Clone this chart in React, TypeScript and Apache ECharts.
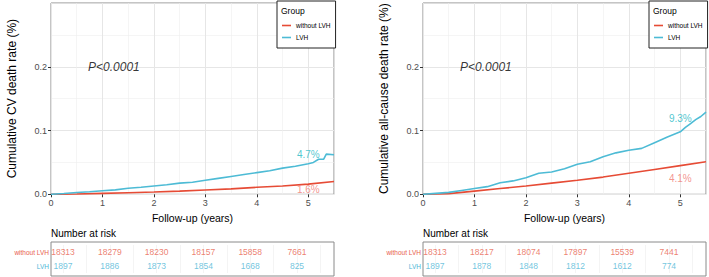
import React, { useEffect, useRef } from "react";
import * as echarts from "echarts";

const FONT = "'Liberation Sans', Arial, Helvetica, sans-serif";
const RED = "#E64B35";
const BLUE = "#4DBBD5";
const RED_LABEL = "#F07A72";
const BLUE_LABEL = "#22B8C4";
const RED_TEXT = "#E8604C";
const BLUE_TEXT = "#4DB6D6";

const groups = ["without LVH", "LVH"];

// Left panel: cardiovascular death
const cvTimeLVH = [0, 0.25, 0.5, 0.75, 1, 1.25, 1.5, 1.75, 2, 2.25, 2.5, 2.75, 3, 3.25, 3.5, 3.75, 4, 4.25, 4.5, 4.75, 5, 5.1, 5.2, 5.3, 5.35, 5.5];
const cvLVH = [0, 0.0012, 0.0028, 0.004, 0.0055, 0.007, 0.0095, 0.011, 0.013, 0.015, 0.0175, 0.019, 0.022, 0.025, 0.028, 0.031, 0.034, 0.037, 0.041, 0.044, 0.048, 0.05, 0.055, 0.055, 0.063, 0.062];
const cvTimeNo = [0, 0.5, 1, 1.5, 2, 2.5, 3, 3.5, 4, 4.5, 5, 5.5];
const cvNo = [0, 0.0005, 0.0015, 0.0025, 0.0035, 0.005, 0.0068, 0.0085, 0.011, 0.013, 0.016, 0.02];

// Right panel: all-cause death
const acTimeLVH = [0, 0.25, 0.5, 0.75, 1, 1.25, 1.5, 1.75, 2, 2.25, 2.5, 2.75, 3, 3.25, 3.5, 3.75, 4, 4.25, 4.5, 4.75, 5, 5.1, 5.2, 5.3, 5.4, 5.5];
const acLVH = [0, 0.0015, 0.003, 0.006, 0.009, 0.012, 0.018, 0.021, 0.026, 0.033, 0.035, 0.04, 0.047, 0.051, 0.059, 0.065, 0.069, 0.072, 0.081, 0.09, 0.098, 0.105, 0.111, 0.117, 0.122, 0.129];
const acTimeNo = [0, 0.5, 1, 1.5, 2, 2.5, 3, 3.5, 4, 4.5, 5, 5.5];
const acNo = [0, 0.001, 0.005, 0.009, 0.013, 0.0175, 0.022, 0.027, 0.033, 0.039, 0.045, 0.051];

// End-point labels
const cvEndLabels = [
  { text: "1.6%", x: 5.0, y: 0.007 },
  { text: "4.7%", x: 5.0, y: 0.063 },
];
const acEndLabels = [
  { text: "4.1%", x: 5.0, y: 0.024 },
  { text: "9.3%", x: 5.0, y: 0.119 },
];
const pText = "P<0.0001";
const pPos = [0.72, 0.2];

// Number at risk
const riskTimes = [0, 1, 2, 3, 4, 5];
const cvRiskNo = [18313, 18279, 18230, 18157, 15858, 7661];
const cvRiskLVH = [1897, 1886, 1873, 1854, 1668, 825];
const acRiskNo = [18313, 18217, 18074, 17897, 15539, 7441];
const acRiskLVH = [1897, 1878, 1848, 1812, 1612, 774];

const yTicks = [0, 0.1, 0.2];
const xTicks = [0, 1, 2, 3, 4, 5];
const yTitles = ["Cumulative CV death rate (%)", "Cumulative all-cause death rate (%)"];

const zip = (a: number[], b: number[]) => a.map((v, i) => [v, b[i]]);

const PANEL_LEFT = [51, 423];
const PANEL_W = 283;

function buildOption() {
  const grid: any[] = [];
  const xAxis: any[] = [];
  const yAxis: any[] = [];
  const series: any[] = [];
  const legend: any[] = [];
  const title: any[] = [];
  const graphic: any[] = [];

  const panels = [
    { tl: cvTimeLVH, l: cvLVH, tn: cvTimeNo, n: cvNo, ends: cvEndLabels, rn: cvRiskNo, rl: cvRiskLVH },
    { tl: acTimeLVH, l: acLVH, tn: acTimeNo, n: acNo, ends: acEndLabels, rn: acRiskNo, rl: acRiskLVH },
  ];

  panels.forEach((p, k) => {
    const left = PANEL_LEFT[k];
    const gPlot = grid.length;
    grid.push({ left, top: 3, width: PANEL_W, height: 191.3, show: true, borderColor: "#8a8a8a", borderWidth: 1, backgroundColor: "transparent" });
    const gBox = grid.length;
    grid.push({ left, top: 242, width: PANEL_W, height: 34, show: true, borderColor: "#8a8a8a", borderWidth: 1 });
    const gTab = grid.length;
    grid.push({ left: left + 12, top: 245, width: 46.8 * 5.5, height: 28 });

    // plot axes: minor grid axis + main axis
    xAxis.push({ type: "value", gridIndex: gPlot, position: "bottom", offset: 0, min: 0, max: 5.5, interval: 0.5, axisLine: { show: false }, axisTick: { show: false }, axisLabel: { show: false }, splitLine: { show: true, lineStyle: { color: "#efefef", width: 0.6 } } });
    const xMain = xAxis.length;
    xAxis.push({
      type: "value", gridIndex: gPlot, position: "bottom", offset: 0, min: 0, max: 5.5, interval: 1,
      name: "Follow-up (years)", nameLocation: "middle", nameGap: 12,
      nameTextStyle: { fontFamily: FONT, fontSize: 10.5, color: "#000" },
      axisLine: { show: false },
      axisTick: { show: true, length: 3, inside: false, lineStyle: { color: "#333" }, customValues: xTicks },
      axisLabel: { show: true, margin: 4, fontFamily: FONT, fontSize: 9, color: "#4d4d4d", customValues: xTicks },
      splitLine: { show: true, lineStyle: { color: "#e6e6e6", width: 1 } },
    });
    yAxis.push({ type: "value", gridIndex: gPlot, position: "left", offset: 0, min: 0, max: 0.3, interval: 0.05, axisLine: { show: false }, axisTick: { show: false }, axisLabel: { show: false }, splitLine: { show: true, lineStyle: { color: "#efefef", width: 0.6 } } });
    const yMain = yAxis.length;
    yAxis.push({
      type: "value", gridIndex: gPlot, position: "left", offset: 0, min: 0, max: 0.3, interval: 0.1,
      name: yTitles[k], nameLocation: "middle", nameGap: 33, nameRotate: 90,
      nameTextStyle: { fontFamily: FONT, fontSize: 12, color: "#000" },
      axisLine: { show: false },
      axisTick: { show: true, length: 3, lineStyle: { color: "#333" }, customValues: yTicks },
      axisLabel: { show: true, margin: 4, fontFamily: FONT, fontSize: 9, color: "#4d4d4d", formatter: (v: number) => v.toFixed(1), customValues: yTicks },
      splitLine: { show: true, lineStyle: { color: "#e6e6e6", width: 1 } },
    });

    // box axes (hidden)
    xAxis.push({ type: "value", gridIndex: gBox, position: "bottom", min: 0, max: 1, show: false });
    yAxis.push({ type: "value", gridIndex: gBox, position: "left", min: 0, max: 1, show: false });

    // table axes
    const xTab = xAxis.length;
    xAxis.push({ type: "value", gridIndex: gTab, position: "bottom", min: 0, max: 5.5, interval: 0.5, axisLine: { show: false }, axisTick: { show: false }, axisLabel: { show: false }, splitLine: { show: true, lineStyle: { color: "#f1f1f1", width: 0.8 } } });
    const yTab = yAxis.length;
    yAxis.push({
      type: "category", gridIndex: gTab, position: "left", data: groups, inverse: true,
      axisLine: { show: false }, axisTick: { show: false }, splitLine: { show: false },
      axisLabel: { show: true, margin: 14, fontFamily: FONT, fontSize: 6.5, color: (v: string) => (v === "LVH" ? BLUE_TEXT : RED_TEXT) },
    });

    // curves
    series.push({ type: "line", name: "without LVH", xAxisIndex: xMain, yAxisIndex: yMain, data: zip(p.tn, p.n), showSymbol: false, symbol: "none", lineStyle: { color: RED, width: 1.6 }, itemStyle: { color: RED }, z: 3 });
    series.push({ type: "line", name: "LVH", xAxisIndex: xMain, yAxisIndex: yMain, data: zip(p.tl, p.l), showSymbol: false, symbol: "none", lineStyle: { color: BLUE, width: 1.6 }, itemStyle: { color: BLUE }, z: 3 });

    // end labels
    series.push({
      type: "scatter", xAxisIndex: xMain, yAxisIndex: yMain, symbolSize: 0, silent: true, z: 4,
      data: p.ends.map((e, i) => ({ value: [e.x, e.y], label: { color: i === 0 ? RED_LABEL : BLUE_LABEL }, name: e.text })),
      label: { show: true, position: "inside", fontFamily: FONT, fontSize: 10, formatter: (q: any) => q.name },
    });
    // p-value
    series.push({
      type: "scatter", xAxisIndex: xMain, yAxisIndex: yMain, symbolSize: 0, silent: true, z: 4,
      data: [{ value: pPos, name: pText }],
      label: { show: true, position: "right", distance: 0, fontFamily: FONT, fontSize: 12, fontStyle: "italic", color: "#000", formatter: (q: any) => q.name },
    });

    // risk table
    const rows = [
      { name: groups[0], vals: p.rn, color: RED_TEXT },
      { name: groups[1], vals: p.rl, color: BLUE_TEXT },
    ];
    rows.forEach((r) => {
      series.push({
        type: "scatter", xAxisIndex: xTab, yAxisIndex: yTab, symbolSize: 0, silent: true,
        data: riskTimes.map((t, i) => [t, r.name, r.vals[i]]),
        label: { show: true, position: "inside", fontFamily: FONT, fontSize: 8.5, color: r.color, formatter: (q: any) => String(q.value[2]) },
      });
    });

    legend.push({
      left: left + 226, top: 1, orient: "vertical",
      data: groups, icon: "rect", itemWidth: 9, itemHeight: 1.6, itemGap: 5,
      padding: [21, 5, 7, 5],
      borderColor: "#222", borderWidth: 1, backgroundColor: "#fff",
      textStyle: { fontFamily: FONT, fontSize: 6.5, color: "#000" },
      selectedMode: false,
    });
    graphic.push({ type: "text", left: left + 230, top: 6, z: 100, style: { text: "Group", fontFamily: FONT, fontSize: 8.5, fill: "#000" } });

    title.push({ text: "Number at risk", left, top: 228, padding: 0, textStyle: { fontFamily: FONT, fontSize: 10, fontWeight: "normal", color: "#000" } });
  });

  return { animation: false, backgroundColor: "#fff", grid, xAxis, yAxis, series, legend, title, graphic };
}

export default function App() {
  const ref = useRef<HTMLDivElement>(null);
  useEffect(() => {
    if (!ref.current) return;
    const chart = echarts.init(ref.current, undefined, { renderer: "svg" });
    chart.setOption(buildOption() as any);
    return () => chart.dispose();
  }, []);
  return <div ref={ref} style={{ position: "fixed", left: 0, top: 0, width: 709, height: 277 }} />;
}
